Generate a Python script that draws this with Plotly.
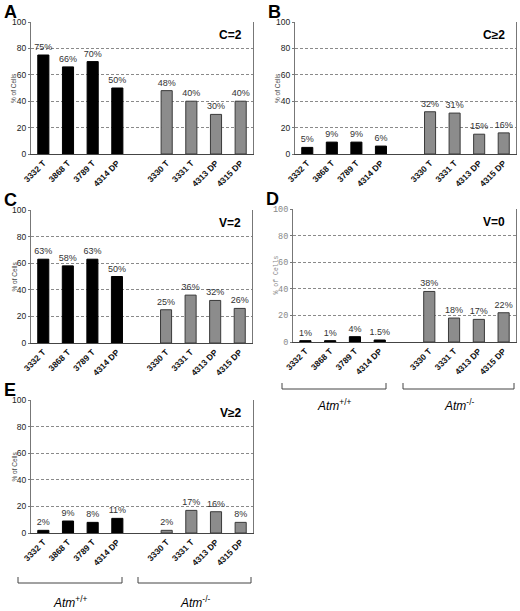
import plotly.graph_objects as go

# cell lines (Atm+/+ then Atm-/-), blank slot between the groups
wt_lines = ["3332 T", "3868 T", "3789 T", "4314 DP"]
ko_lines = ["3330 T", "3331 T", "4313 DP", "4315 DP"]
gap = " "

# % of cells per panel
c2_wt = [75, 66, 70, 50]
c2_ko = [48, 40, 30, 40]
cge2_wt = [5, 9, 9, 6]
cge2_ko = [32, 31, 15, 16]
v2_wt = [63, 58, 63, 50]
v2_ko = [25, 36, 32, 26]
v0_wt = [1, 1, 4, 1.5]
v0_ko = [38, 18, 17, 22]
vge2_wt = [2, 9, 8, 11]
vge2_ko = [2, 17, 16, 8]

W, H = 520, 611
FONT = "Arial, Liberation Sans"
MONO = "Liberation Mono, Courier New"

def px(x):
    return x / W

def py(y):
    return 1 - y / H

# panel letter, tag, data, box (left, right, top, bottom in pixels), mono y font
panels = [
    ("A", "C=2", c2_wt, c2_ko, (31, 253, 22, 154), False),
    ("B", "C≥2", cge2_wt, cge2_ko, (295, 516, 22, 154), False),
    ("C", "V=2", v2_wt, v2_ko, (31, 252, 210, 343), False),
    ("D", "V=0", v0_wt, v0_ko, (293, 516, 209, 342), True),
    ("E", "V≥2", vge2_wt, vge2_ko, (31, 253, 400, 533), False),
]

fig = go.Figure()
annotations = []
shapes = []

for i, (letter, tag, wt, ko, box, mono) in enumerate(panels):
    n = "" if i == 0 else str(i + 1)
    xa, ya = "x" + n, "y" + n
    l, r, t, b = box

    fig.add_trace(go.Bar(
        x=wt_lines, y=wt, xaxis=xa, yaxis=ya, width=0.45,
        marker=dict(color="black", line=dict(color="black", width=1)),
        text=[f"{v:g}%" for v in wt], textposition="outside",
        textfont=dict(size=9, color="#333", family=FONT),
        cliponaxis=False, constraintext="none", showlegend=False,
    ))
    fig.add_trace(go.Bar(
        x=ko_lines, y=ko, xaxis=xa, yaxis=ya, width=0.45,
        marker=dict(color="#8c8c8c", line=dict(color="#3a3a3a", width=1)),
        text=[f"{v:g}%" for v in ko], textposition="outside",
        textfont=dict(size=9, color="#333", family=FONT),
        cliponaxis=False, constraintext="none", showlegend=False,
    ))

    yfont = dict(size=8.5, color="#222", family=FONT)
    tfont = dict(size=6.5, color="#444", family=FONT)
    if mono:
        yfont = dict(size=8.5, color="#888", family=MONO)
        tfont = dict(size=6.5, color="#888", family=MONO)

    fig.layout["xaxis" + n] = dict(
        domain=[px(l), px(r)], anchor=ya, type="category",
        categoryorder="array", categoryarray=wt_lines + [gap] + ko_lines,
        range=[-0.5, 8.5], tickangle=-45, showgrid=False, automargin=False,
        showline=True, linecolor="#444", linewidth=1, ticks="",
        tickfont=dict(size=8.5, color="#111", family=FONT, weight="bold"),
        fixedrange=True,
    )
    fig.layout["yaxis" + n] = dict(
        domain=[py(b), py(t)], anchor=xa, range=[0, 100], automargin=False,
        tickvals=[0, 20, 40, 60, 80, 100], tickfont=yfont,
        showline=True, linecolor="#777", linewidth=1, mirror=True,
        showgrid=True, gridcolor="#8a8a8a", griddash="3px,2px", gridwidth=1,
        ticks="outside", ticklen=2, tickcolor="#777", zeroline=False,
        fixedrange=True,
    )

    annotations.append(dict(
        text=f"<b>{letter}</b>", xref="paper", yref="paper",
        x=px(l - 29), y=py(t - 22), xanchor="left", yanchor="top",
        showarrow=False, font=dict(size=18, color="black", family=FONT),
    ))
    annotations.append(dict(
        text=f"<b>{tag}</b>", xref=xa + " domain", yref=ya + " domain",
        x=0.96, y=0.9, xanchor="right", yanchor="middle",
        showarrow=False, font=dict(size=12, color="black", family=FONT),
    ))
    annotations.append(dict(
        text="% of Cells", xref="paper", yref="paper",
        x=px(l - 17), y=py((t + b) / 2), xanchor="center", yanchor="middle",
        textangle=-90, showarrow=False, font=tfont,
    ))

# genotype brackets under panels D and E
brackets = [
    ((282, 386), (403, 514), 383, 389, 405),
    ((18, 122), (138, 251), 577, 583, 602),
]
for (a0, a1), (b0, b1), ytop, ybot, ylab in brackets:
    for x0, x1, lab in [(a0, a1, "<i>Atm</i><sup>+/+</sup>"), (b0, b1, "<i>Atm</i><sup>-/-</sup>")]:
        shapes.append(dict(
            type="path", xref="paper", yref="paper",
            path=f"M {px(x0)},{py(ytop)} L {px(x0)},{py(ybot)} L {px(x1)},{py(ybot)} L {px(x1)},{py(ytop)}",
            line=dict(color="#444", width=1),
        ))
        annotations.append(dict(
            text=lab, xref="paper", yref="paper",
            x=px((x0 + x1) / 2), y=py(ylab), xanchor="center", yanchor="middle",
            showarrow=False, font=dict(size=12, color="black", family=FONT),
        ))

fig.update_layout(
    width=W, height=H, margin=dict(l=0, r=0, t=0, b=0, autoexpand=False),
    barmode="overlay", plot_bgcolor="white", paper_bgcolor="white",
    annotations=annotations, shapes=shapes,
)

# page has a default body margin; drop it so the figure fills the window
fig.write_html("out.html", config={"displayModeBar": False},
               post_script="document.body.style.margin='0';")
